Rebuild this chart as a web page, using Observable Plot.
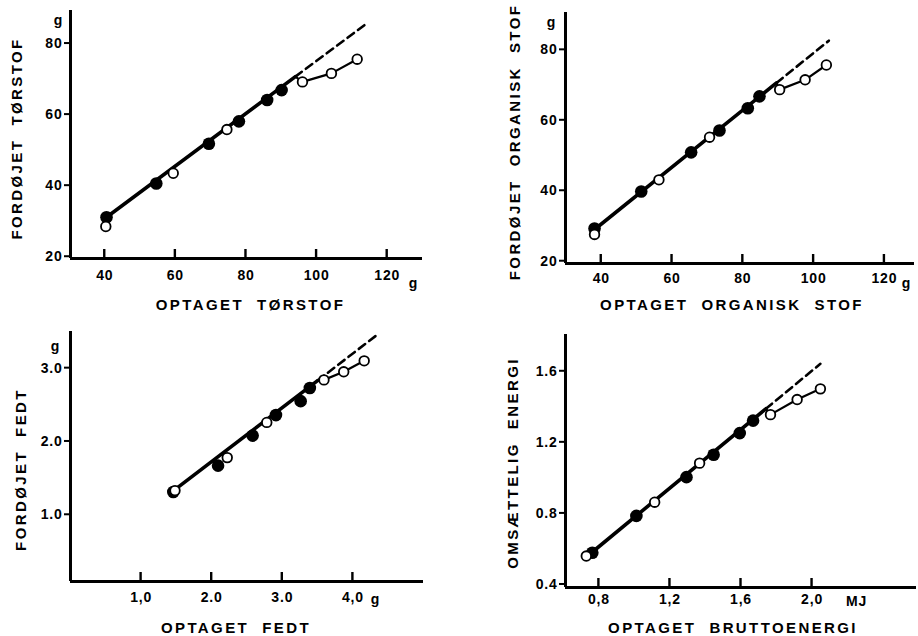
<!DOCTYPE html>
<html><head><meta charset="utf-8">
<script src="https://cdn.jsdelivr.net/npm/d3@7"></script>
<script src="https://cdn.jsdelivr.net/npm/@observablehq/plot@0.6"></script>
<style>
body{margin:0;background:#fff}
#wrap{position:relative;width:918px;height:636px;overflow:hidden}
.p{position:absolute}
</style>
</head><body><div id="wrap"></div>
<script>
// ---------- Panel 1: tørstof ----------
const p1FilledX = [40.5, 54.6, 69.5, 78.0, 86.0, 90.1];
const p1FilledY = [31.1, 40.6, 51.8, 58.1, 64.1, 66.9];
const p1OpenX = [40.3, 59.4, 74.6, 96.0, 104.2, 111.5];
const p1OpenY = [28.5, 43.5, 55.8, 69.2, 71.6, 75.6];
const p1FitX = [40.5, 94.0], p1FitY = [31.1, 70.7];
const p1DashX = [94.0, 114.0], p1DashY = [70.7, 85.5];
const p1CurveX = [94.0, 96.0, 104.2, 111.5], p1CurveY = [70.7, 69.2, 71.6, 75.6];
const p1XTicks = [40, 60, 80, 100, 120], p1XLabels = ["40", "60", "80", "100", "120"];
const p1YTicks = [20, 40, 60, 80], p1YLabels = ["20", "40", "60", "80"];

// ---------- Panel 2: organisk stof ----------
const p2FilledX = [38.1, 51.3, 65.4, 73.4, 81.4, 84.7];
const p2FilledY = [29.3, 39.8, 50.9, 57.1, 63.4, 66.8];
const p2OpenX = [38.1, 56.3, 70.6, 90.4, 97.6, 103.6];
const p2OpenY = [27.6, 43.1, 55.2, 68.7, 71.5, 75.7];
const p2FitX = [38.1, 89.5], p2FitY = [29.0, 70.6];
const p2DashX = [89.5, 104.3], p2DashY = [70.6, 82.6];
const p2CurveX = [89.5, 90.4, 97.6, 103.6], p2CurveY = [70.6, 68.7, 71.5, 75.7];
const p2XTicks = [40, 60, 80, 100, 120], p2XLabels = ["40", "60", "80", "100", "120"];
const p2YTicks = [20, 40, 60, 80], p2YLabels = ["20", "40", "60", "80"];

// ---------- Panel 3: fedt ----------
const p3FilledX = [1.456, 2.09, 2.58, 2.91, 3.26, 3.39];
const p3FilledY = [1.31, 1.67, 2.08, 2.36, 2.55, 2.73];
const p3OpenX = [1.48, 2.22, 2.78, 3.59, 3.87, 4.16];
const p3OpenY = [1.33, 1.78, 2.26, 2.84, 2.95, 3.10];
const p3FitX = [1.46, 3.5], p3FitY = [1.33, 2.83];
const p3DashX = [3.5, 4.35], p3DashY = [2.83, 3.46];
const p3CurveX = [3.5, 3.59, 3.87, 4.16], p3CurveY = [2.83, 2.84, 2.95, 3.10];
const p3XTicks = [1, 2, 3, 4], p3XLabels = ["1,0", "2.0", "3.0", "4,0"];
const p3YTicks = [1, 2, 3], p3YLabels = ["1.0", "2.0", "3.0"];

// ---------- Panel 4: energi ----------
const p4FilledX = [0.763, 1.011, 1.293, 1.446, 1.593, 1.668];
const p4FilledY = [0.579, 0.786, 1.004, 1.130, 1.252, 1.322];
const p4OpenX = [0.729, 1.114, 1.367, 1.766, 1.916, 2.047];
const p4OpenY = [0.560, 0.863, 1.083, 1.356, 1.441, 1.501];
const p4FitX = [0.76, 1.74], p4FitY = [0.58, 1.389];
const p4DashX = [1.74, 2.047], p4DashY = [1.389, 1.642];
const p4CurveX = [1.74, 1.766, 1.916, 2.047], p4CurveY = [1.389, 1.356, 1.441, 1.501];
const p4XTicks = [0.8, 1.2, 1.6, 2.0], p4XLabels = ["0,8", "1,2", "1,6", "2,0"];
const p4YTicks = [0.4, 0.8, 1.2, 1.6], p4YLabels = ["0.4", "0.8", "1.2", "1.6"];

const zip = (xs, ys) => xs.map((x, i) => ({x, y: ys[i]}));

function panel(c) {
  const fmt = (ticks, labels) => d => labels[ticks.findIndex(t => Math.abs(t - d) < 1e-9)];
  const y0 = c.yDomain[0], x0 = c.xDomain[0];
  // pixel sizes converted to data units
  const pxY = (c.yDomain[1] - c.yDomain[0]) / (c.h - c.mt - c.mb);
  const pxX = (c.xDomain[1] - c.xDomain[0]) / (c.w - c.ml - c.mr);
  const svg = Plot.plot({
    width: c.w, height: c.h,
    marginLeft: c.ml, marginRight: c.mr, marginTop: c.mt, marginBottom: c.mb,
    style: {fontFamily: "'Liberation Sans', Arial, sans-serif", fontWeight: "bold", fontSize: "14px", color: "black", background: "white", overflow: "visible"},
    x: {domain: c.xDomain},
    y: {domain: c.yDomain},
    marks: [
      Plot.axisX({ticks: c.xTicks, tickFormat: fmt(c.xTicks, c.xLabels), tickSize: 0, tickPadding: c.xPad - 7, label: null, fontSize: 14}),
      Plot.axisY({ticks: c.yTicks, tickFormat: fmt(c.yTicks, c.yLabels), tickSize: 0, tickPadding: 8, label: null, fontSize: 14}),
      // inward x ticks (9px tall) and outward y ticks (6px long)
      Plot.rect(c.xTicks, {x1: d => d - 1.2 * pxX, x2: d => d + 1.2 * pxX, y1: () => y0, y2: () => y0 + 9 * pxY, fill: "black", inset: 0}),
      Plot.rect(c.yTicks, {y1: d => d - 1 * pxY, y2: d => d + 1 * pxY, x1: () => x0 - 6 * pxX, x2: () => x0, fill: "black", inset: 0}),
      Plot.ruleX([c.xDomain[0]], {strokeWidth: 3}),
      Plot.ruleY([c.yDomain[0]], {strokeWidth: 3}),
      Plot.line(zip(c.fitX, c.fitY), {x: "x", y: "y", strokeWidth: 3.6, stroke: "black"}),
      Plot.line(zip(c.dashX, c.dashY), {x: "x", y: "y", strokeWidth: 2.6, stroke: "black", strokeDasharray: "8,5"}),
      Plot.line(zip(c.curveX, c.curveY), {x: "x", y: "y", strokeWidth: 2.2, stroke: "black"}),
      Plot.dot(zip(c.filledX, c.filledY), {x: "x", y: "y", r: 6.3, fill: "black"}),
      Plot.dot(zip(c.openX, c.openY), {x: "x", y: "y", r: 4.8, fill: "white", stroke: "black", strokeWidth: 1.8}),
      Plot.text([c.yTitle], {text: d => d, frameAnchor: "left", textAnchor: "middle", lineAnchor: "middle", rotate: -90, dx: c.ytDx, dy: c.ytDy, fontSize: 15, fontWeight: "bold"}),
      Plot.text([c.xTitle], {text: d => d, frameAnchor: "bottom", textAnchor: "middle", lineAnchor: "middle", dx: c.xtDx, dy: c.xtDy, fontSize: 15, fontWeight: "bold"}),
      Plot.text([c.yUnit], {text: d => d, frameAnchor: "top-left", textAnchor: "middle", lineAnchor: "middle", dx: c.yuDx, dy: c.yuDy, fontSize: 14, fontWeight: "bold"}),
      Plot.text([c.xUnit], {text: d => d, frameAnchor: "bottom-right", textAnchor: "middle", lineAnchor: "middle", dx: c.xuDx, dy: c.xuDy, fontSize: 14, fontWeight: "bold"})
    ]
  });
  // letter spacing for the typewriter-like lettering
  for (const t of svg.querySelectorAll("text")) {
    const s = t.textContent;
    if (s === c.xTitle || s === c.yTitle) t.style.letterSpacing = "2.4px";
    else t.style.letterSpacing = "0.8px";
  }
  return svg;
}

const panels = [
  {left: 0, top: 0, w: 459, h: 316, ml: 70, mr: 37, mt: 10, mb: 58,
   xDomain: [30.3, 130], yDomain: [19.5, 89.3], xPad: 19,
   filledX: p1FilledX, filledY: p1FilledY, openX: p1OpenX, openY: p1OpenY,
   fitX: p1FitX, fitY: p1FitY, dashX: p1DashX, dashY: p1DashY, curveX: p1CurveX, curveY: p1CurveY,
   xTicks: p1XTicks, xLabels: p1XLabels, yTicks: p1YTicks, yLabels: p1YLabels,
   yTitle: "FORDØJET\u00a0\u00a0TØRSTOF", xTitle: "OPTAGET\u00a0\u00a0TØRSTOF",
   ytDx: -53, ytDy: 4, xtDx: 4, xtDy: 47, yUnit: "g", yuDx: -12, yuDy: 10, xUnit: "g", xuDx: -9, xuDy: 25},
  {left: 459, top: 0, w: 459, h: 316, ml: 106, mr: 4, mt: 12, mb: 53,
   xDomain: [29.9, 128.5], yDomain: [19.35, 90.6], xPad: 17,
   filledX: p2FilledX, filledY: p2FilledY, openX: p2OpenX, openY: p2OpenY,
   fitX: p2FitX, fitY: p2FitY, dashX: p2DashX, dashY: p2DashY, curveX: p2CurveX, curveY: p2CurveY,
   xTicks: p2XTicks, xLabels: p2XLabels, yTicks: p2YTicks, yLabels: p2YLabels,
   yTitle: "FORDØJET\u00a0\u00a0ORGANISK\u00a0\u00a0STOF", xTitle: "OPTAGET\u00a0\u00a0ORGANISK\u00a0\u00a0STOF",
   ytDx: -50, ytDy: 4, xtDx: -8, xtDy: 42, yUnit: "g", yuDx: -14, yuDy: 10, xUnit: "g", xuDx: -8, xuDy: 20},
  {left: 0, top: 316, w: 459, h: 320, ml: 70, mr: 36, mt: 15, mb: 55,
   xDomain: [0, 5], yDomain: [0.09, 3.5], xPad: 18,
   filledX: p3FilledX, filledY: p3FilledY, openX: p3OpenX, openY: p3OpenY,
   fitX: p3FitX, fitY: p3FitY, dashX: p3DashX, dashY: p3DashY, curveX: p3CurveX, curveY: p3CurveY,
   xTicks: p3XTicks, xLabels: p3XLabels, yTicks: p3YTicks, yLabels: p3YLabels,
   yTitle: "FORDØJET\u00a0\u00a0FEDT", xTitle: "OPTAGET\u00a0\u00a0FEDT",
   ytDx: -49, ytDy: 13, xtDx: -11, xtDy: 47, yUnit: "g", yuDx: -15, yuDy: 15, xUnit: "g", xuDx: -48, xuDy: 18},
  {left: 459, top: 316, w: 459, h: 320, ml: 106, mr: 2, mt: 18, mb: 49,
   xDomain: [0.612, 2.588], yDomain: [0.383, 1.807], xPad: 14,
   filledX: p4FilledX, filledY: p4FilledY, openX: p4OpenX, openY: p4OpenY,
   fitX: p4FitX, fitY: p4FitY, dashX: p4DashX, dashY: p4DashY, curveX: p4CurveX, curveY: p4CurveY,
   xTicks: p4XTicks, xLabels: p4XLabels, yTicks: p4YTicks, yLabels: p4YLabels,
   yTitle: "OMSÆTTELIG\u00a0\u00a0ENERGI", xTitle: "OPTAGET\u00a0\u00a0BRUTTOENERGI",
   ytDx: -52, ytDy: 2, xtDx: -8, xtDy: 41, yUnit: "", yuDx: 0, yuDy: 0, xUnit: "MJ", xuDx: -60, xuDy: 14}
];

const wrap = document.getElementById("wrap");
for (const c of panels) {
  const svg = panel(c);
  const div = document.createElement("div");
  div.className = "p";
  div.style.left = c.left + "px";
  div.style.top = c.top + "px";
  div.appendChild(svg);
  wrap.appendChild(div);
}
</script></body></html>
